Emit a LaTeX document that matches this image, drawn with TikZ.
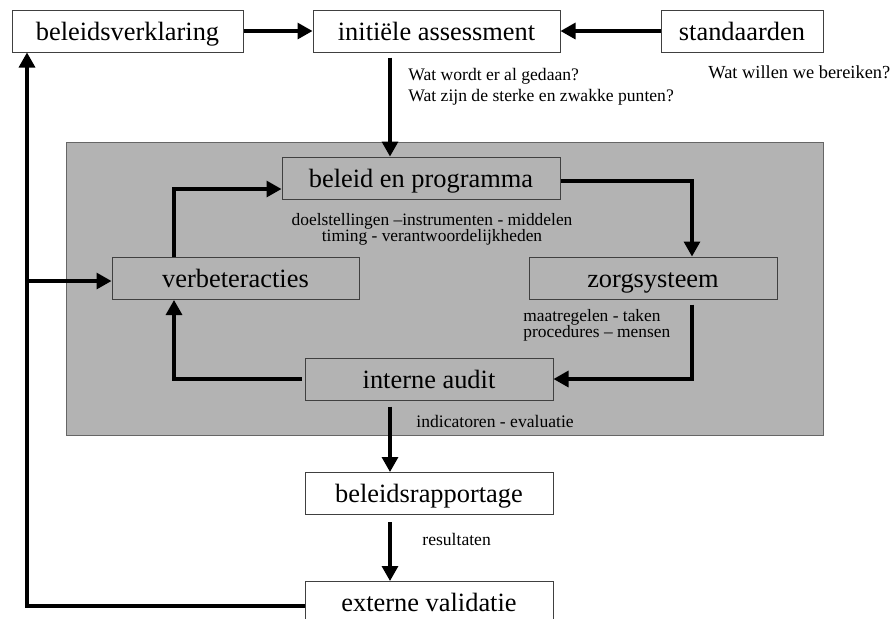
\documentclass[tikz,border=0pt]{standalone}
\usepackage{fontspec}
\setmainfont{Liberation Serif}
\usetikzlibrary{arrows.meta}
\definecolor{panelgray}{RGB}{179,179,179}

\begin{document}
\begin{tikzpicture}[x=0.5pt, y=-0.5pt,
    box/.style={draw=black!75, line width=0.5pt, fill=white, inner sep=0pt,
      minimum height=21pt, text height=9.5pt, text depth=0.5pt,
      font=\fontsize{13.2}{14}\selectfont},
    inbox/.style={box, fill=panelgray},
    flow/.style={line width=1.6pt, -{Triangle[length=7.5pt,width=8pt]}},
    note/.style={inner sep=0pt, font=\fontsize{8.8}{10.5}\selectfont}]
  \useasboundingbox (0,0) rectangle (890,618);
  % Grey panel
  \fill[panelgray, draw=black!60, line width=0.5pt] (66,142) rectangle (823,435);
  % Top row
  \node[box, minimum width=115.5pt] (verkl) at (127.5,31) {beleidsverklaring};
  \node[box, minimum width=123.5pt] (assess) at (436.5,31) {initiële assessment};
  \node[box, minimum width=81pt] (norm) at (742,31) {standaarden};
  % Cycle inside the panel
  \node[inbox, minimum width=139pt] (beleid) at (421,178) {beleid en programma};
  \node[inbox, minimum width=123.5pt] (verbeter) at (235.5,278.5) {verbeteracties};
  \node[inbox, minimum width=124pt] (zorg) at (653,278) {zorgsysteem};
  \node[inbox, minimum width=124pt] (audit) at (429,379) {interne audit};
  % Bottom column
  \node[box, minimum width=124pt] (rapport) at (429,493.5) {beleidsrapportage};
  \node[box, minimum width=124pt] (valid) at (429,602.5) {externe validatie};
  % Bend points
  \coordinate (spine) at (390,0);
  \coordinate (loopL) at (174,189);
  \coordinate (loopR) at (692,181);
  \coordinate (back) at (27,606);
  % Connectors
  \draw[flow] (verkl) -- (assess);
  \draw[flow] (norm) -- (assess);
  \draw[flow, shorten <=2.5pt] (assess.south -| spine) -- (beleid.north -| spine);
  \draw[flow] (verbeter.north -| loopL) |- (beleid.west |- loopL);
  \draw[flow] (beleid.east |- loopR) -| (zorg.north -| loopR);
  \draw[flow, shorten <=2.5pt] (zorg.south -| loopR) |- (audit.east);
  \draw[flow, shorten <=1.5pt] (audit.west) -| (verbeter.south -| loopL);
  \draw[flow, shorten <=3pt] (audit.south -| spine) -- (rapport.north -| spine);
  \draw[flow, shorten <=3.5pt] (rapport.south -| spine) -- (valid.north -| spine);
  \draw[flow] (valid.west |- back) -| (verkl.south -| back);
  \draw[flow] (verbeter.west -| back) ++(0,2.5) -- (verbeter.west |- 0,281);
  % Notes
  \node[note, anchor=north west, align=left] (qnow) at (408,68)
    {Wat wordt er al gedaan?\\Wat zijn de sterke en zwakke punten?};
  \node[note, anchor=north west, font=\fontsize{9.2}{10.5}\selectfont] (qgoal) at (708,65) {Wat willen we bereiken?};
  \node[note, anchor=north, align=center, font=\fontsize{8.7}{8}\selectfont] (nbeleid) at (432,213)
    {doelstellingen –instrumenten - middelen\\timing - verantwoordelijkheden};
  \node[note, anchor=north west, align=left, font=\fontsize{8.7}{8}\selectfont] (nzorg) at (523,309)
    {maatregelen - taken\\procedures – mensen};
  \node[note, anchor=west] (naudit) at (416,421) {indicatoren - evaluatie};
  \node[note, anchor=west] (nrapport) at (422,539) {resultaten};
\end{tikzpicture}
\end{document}
